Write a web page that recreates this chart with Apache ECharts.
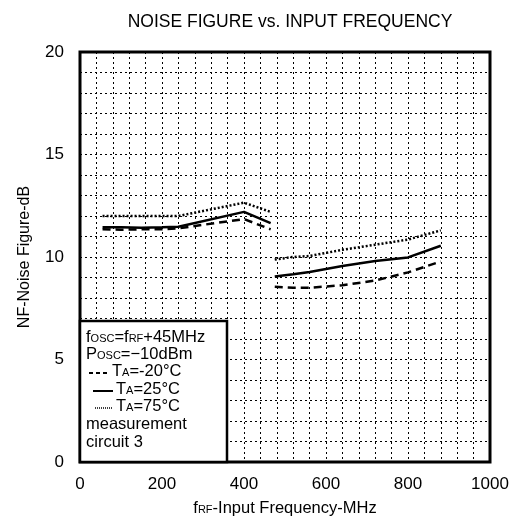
<!DOCTYPE html>
<html>
<head>
<meta charset="utf-8">
<script src="https://cdn.jsdelivr.net/npm/echarts@6/dist/echarts.min.js"></script>
<style>
  html, body { margin: 0; padding: 0; background: #fff; }
  #chart { width: 513px; height: 525px; }
</style>
</head>
<body>
<div id="chart"></div>
<script>
// Frecuencias (MHz) de los dos tramos medidos
const freqLow = [55, 100, 150, 200, 240, 400, 465];
const freqHigh = [475, 520, 560, 640, 720, 800, 880];

// NF (dB) por temperatura
const nfMinus20Low = [11.35, 11.33, 11.35, 11.35, 11.4, 11.85, 11.35];
const nfMinus20High = [8.55, 8.5, 8.5, 8.62, 8.85, 9.25, 9.78];
const nf25Low = [11.45, 11.45, 11.43, 11.45, 11.48, 12.2, 11.65];
const nf25High = [9.05, 9.16, 9.27, 9.56, 9.8, 9.98, 10.55];
const nf75Low = [12.0, 12.0, 12.0, 12.0, 12.0, 12.65, 12.2];
const nf75High = [9.88, 10.0, 10.05, 10.35, 10.6, 10.85, 11.3];

const xTicks = [0, 200, 400, 600, 800, 1000];
const yTicks = [0, 5, 10, 15, 20];

const myChart = echarts.init(document.getElementById('chart'));
const fuente = '"Liberation Sans", Arial, sans-serif';

function pares(xs, ys) {
    return xs.map((x, i) => [x, ys[i]]);
}

// Une los dos tramos con un hueco en medio
function tramo(low, high) {
    return pares(freqLow, low).concat([[470, '-']], pares(freqHigh, high));
}

function serie(name, low, high, type) {
    return {
        name: name,
        type: 'line',
        symbol: 'none',
        connectNulls: false,
        lineStyle: { color: '#000', width: 2.5, type: type },
        data: tramo(low, high)
    };
}

const subRich = {
    sub: { fontSize: 11, fontFamily: fuente, color: '#000', verticalAlign: 'bottom', padding: [0, 0, 2, 0] },
    n: { fontSize: 16.5, fontFamily: fuente, color: '#000' }
};

let option = {
    animation: false,
    backgroundColor: '#fff',
    title: {
        text: 'NOISE FIGURE vs. INPUT FREQUENCY',
        left: 285,
        textAlign: 'center',
        top: 8,
        textStyle: { fontFamily: fuente, fontSize: 17.5, fontWeight: 'normal', color: '#000' }
    },
    grid: {
        left: 80, right: 23, top: 52, bottom: 63,
        show: true,
        borderColor: '#000',
        borderWidth: 3,
        z: 5
    },
    xAxis: {
        type: 'value',
        min: 0, max: 1000, interval: 40,
        name: '{n|f}{sub|RF}{n|-Input Frequency-MHz}',
        nameLocation: 'middle',
        nameGap: 38,
        nameTextStyle: { rich: subRich },
        axisLine: { show: false },
        axisTick: { show: false },
        axisLabel: {
            fontFamily: fuente, fontSize: 17, color: '#000', margin: 14,
            formatter: v => xTicks.includes(v) ? String(v) : ''
        },
        splitLine: { show: true, lineStyle: { color: '#000', width: 1, type: [2, 3] } }
    },
    yAxis: {
        type: 'value',
        min: 0, max: 20, interval: 1,
        name: 'NF-Noise Figure-dB',
        nameLocation: 'middle',
        nameGap: 47,
        nameTextStyle: { fontFamily: fuente, fontSize: 16, color: '#000' },
        axisLine: { show: false },
        axisTick: { show: false },
        axisLabel: {
            fontFamily: fuente, fontSize: 17, color: '#000', margin: 16,
            formatter: v => yTicks.includes(v) ? String(v) : ''
        },
        splitLine: { show: true, lineStyle: { color: '#000', width: 1, type: [2, 3] } }
    },
    series: [
        serie('TA=-20°C', nfMinus20Low, nfMinus20High, [8, 5]),
        serie('TA=25°C', nf25Low, nf25High, 'solid'),
        serie('TA=75°C', nf75Low, nf75High, [2, 2])
    ],
    graphic: [
        // recuadro de notas
        { type: 'rect', z: 10, shape: { x: 80, y: 321, width: 147, height: 141 },
          style: { fill: '#fff', stroke: '#000', lineWidth: 2.5 } },
        { type: 'text', z: 11, left: 86, top: 329,
          style: { text: '{n|f}{sub|OSC}{n|=f}{sub|RF}{n|+45MHz}', rich: subRich } },
        { type: 'text', z: 11, left: 86, top: 346,
          style: { text: '{n|P}{sub|OSC}{n|=−10dBm}', rich: subRich } },
        { type: 'line', z: 11, shape: { x1: 89, y1: 373, x2: 110, y2: 373 },
          style: { stroke: '#000', lineWidth: 2, lineDash: [4, 3] } },
        { type: 'text', z: 11, left: 112, top: 363,
          style: { text: '{n|T}{sub|A}{n|=-20°C}', rich: subRich } },
        { type: 'line', z: 11, shape: { x1: 93, y1: 391, x2: 113, y2: 391 },
          style: { stroke: '#000', lineWidth: 2 } },
        { type: 'text', z: 11, left: 116, top: 381,
          style: { text: '{n|T}{sub|A}{n|=25°C}', rich: subRich } },
        { type: 'line', z: 11, shape: { x1: 95, y1: 408, x2: 113, y2: 408 },
          style: { stroke: '#000', lineWidth: 1.5, lineDash: [1, 1] } },
        { type: 'text', z: 11, left: 116, top: 398,
          style: { text: '{n|T}{sub|A}{n|=75°C}', rich: subRich } },
        { type: 'text', z: 11, left: 86, top: 415,
          style: { text: 'measurement\ncircuit 3', font: '16.5px ' + fuente, fill: '#000', lineHeight: 18 } }
    ]
};

myChart.setOption(option);
</script>
</body>
</html>
